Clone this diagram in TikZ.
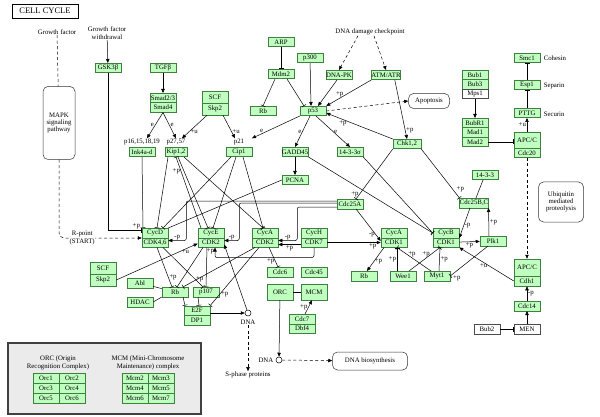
\documentclass[tikz,border=0pt]{standalone}
\usepackage{fontspec}
\setmainfont{Liberation Serif}
\usetikzlibrary{arrows.meta}
\definecolor{kgfill}{HTML}{BFFFBF}
\definecolor{kgline}{HTML}{3F7F3F}
\definecolor{legfill}{HTML}{EBEBEB}
\newcommand{\kgfont}{\fontsize{6.8}{7.3}\selectfont}
\tikzset{
  gene/.style={draw=kgline,fill=kgfill,minimum width=26pt,minimum height=9.5pt,inner sep=0pt,font=\kgfont},
  blank/.style={gene,draw=black!70,fill=white},
  txt/.style={font=\kgfont,inner sep=0.5pt,align=center},
  lbl/.style={font=\kgfont,inner sep=0.8pt},
  map/.style={draw=black!80,rounded corners=5pt,font=\kgfont,align=center,inner sep=1pt},
  act/.style={-{Triangle[length=4pt,width=3.4pt]}},
  inh/.style={-{Bar[width=5pt]}},
  dsh/.style={dash pattern=on 3pt off 2.5pt},
}
\begin{document}
\begin{tikzpicture}[x=1pt,y=-1pt,line width=0.5pt]
\useasboundingbox (0,0) rectangle (600,417);
% title and pathway boxes
\node[draw,minimum width=66pt,minimum height=14pt,inner sep=0pt,font=\fontsize{8.5}{9}\selectfont] (title) at (45,11) {CELL CYCLE};
\node[txt] (gf) at (57,32) {Growth factor};
\node[txt] (gfw) at (107,33) {Growth factor\\withdrawal};
\node[txt] (ddc) at (370,32) {DNA damage checkpoint};
\node[map,minimum width=32pt,minimum height=73pt] (mapk) at (59,123) {MAPK\\signaling\\pathway};
\node[map,minimum width=41pt,minimum height=15pt] (apop) at (429,101) {Apoptosis};
\node[map,minimum width=45pt,minimum height=40pt] (ubiq) at (561,202) {Ubiquitin\\mediated\\proteolysis};
\node[map,minimum width=75pt,minimum height=18pt] (dnabio) at (370,361) {DNA biosynthesis};
% G1 regulators
\node[gene] (gsk) at (108,68) {GSK3β};
\node[gene] (tgf) at (163,68) {TGFβ};
\node[gene] (smad23) at (163,98) {Smad2/3};
\node[gene] (smad4) at (163,107.5) {Smad4};
\node[gene,minimum height=12pt] (scfa) at (215,97) {SCF};
\node[gene,minimum height=12pt] (skp2a) at (215,109) {Skp2};
\node[txt] (p16) at (142,142) {p16,15,18,19};
\node[txt] (p27) at (176,142) {p27,57};
\node[txt] (p21) at (239,142) {p21};
\node[gene] (ink) at (142,152) {Ink4a-d};
\node[gene,minimum width=22pt] (kip) at (176,152) {Kip1,2};
\node[gene] (cip) at (239,152) {Cip1};
% p53 pathway
\node[gene] (arp) at (281,42) {ARP};
\node[gene] (mdm2) at (281,74) {Mdm2};
\node[gene] (rbt) at (263,111) {Rb};
\node[gene] (p300) at (310,58) {p300};
\node[gene] (dnapk) at (339,75) {DNA-PK};
\node[gene,minimum width=28pt] (atm) at (386,75) {ATM/ATR};
\node[gene] (p53) at (313,111) {p53};
\node[gene,minimum width=28pt] (chk) at (407,144) {Chk1,2};
\node[gene] (gadd) at (295,152) {GADD45};
\node[gene] (sigma) at (350,152) {14-3-3σ};
\node[gene] (pcna) at (295,180) {PCNA};
\node[gene] (cdc25a) at (350,204) {Cdc25A};
% cyclin/CDK complexes
\node[gene] (cycD) at (155,233) {CycD};
\node[gene] (cdk46) at (155,242.5) {CDK4,6};
\node[gene] (cycE) at (211,233) {CycE};
\node[gene] (cdk2e) at (211,242.5) {CDK2};
\node[gene] (cycA) at (265,233) {CycA};
\node[gene] (cdk2a) at (265,242.5) {CDK2};
\node[gene] (cycH) at (314,233) {CycH};
\node[gene] (cdk7) at (314,242.5) {CDK7};
\node[gene] (cycAb) at (394,233) {CycA};
\node[gene] (cdk1a) at (394,242.5) {CDK1};
\node[gene] (cycB) at (446,233) {CycB};
\node[gene] (cdk1b) at (446,242.5) {CDK1};
\node[gene] (plk) at (493,241) {Plk1};
\node[gene] (cdc25bc) at (474,203) {Cdc25B,C};
\node[gene] (f1433) at (485,175) {14-3-3};
\node[gene] (rb2) at (364,276) {Rb};
\node[gene] (wee) at (403,276) {Wee1};
\node[gene] (myt) at (437,276) {Myt1};
% Rb / E2F
\node[gene,minimum height=12pt] (scfb) at (103,268) {SCF};
\node[gene,minimum height=12pt] (skp2b) at (103,280) {Skp2};
\node[gene] (abl) at (140,283) {Abl};
\node[gene] (hdac) at (140,302) {HDAC};
\node[gene] (rb1) at (175,292) {Rb};
\node[gene] (p107) at (206,292) {p107};
\node[gene] (e2f) at (197,310.5) {E2F};
\node[gene] (dp1) at (197,320) {DP1};
\node[circle,draw,inner sep=0pt,minimum size=6pt] (dna1) at (248,313) {};
\node[txt] (dna1txt) at (248,322) {DNA};
\node[txt] (sphase) at (248,375) {S-phase proteins};
% replication licensing
\node[gene] (cdc6) at (280,272) {Cdc6};
\node[gene] (cdc45) at (314,272) {Cdc45};
\node[gene,minimum height=16pt] (orc) at (280,292) {ORC};
\node[gene,minimum height=16pt] (mcm) at (314,292) {MCM};
\node[gene] (cdc7) at (302,319) {Cdc7};
\node[gene] (dbf4) at (302,328.5) {Dbf4};
\node[circle,draw,inner sep=0pt,minimum size=6pt] (dna2) at (279,360) {};
\node[txt,anchor=east] (dna2txt) at (274,360) {DNA};
% spindle checkpoint
\node[gene] (bub1) at (475,75) {Bub1};
\node[gene] (bub3) at (475,84.5) {Bub3};
\node[blank] (mps1) at (475,94) {Mps1};
\node[gene] (bubr1) at (475,123) {BubR1};
\node[gene] (mad1) at (475,132.5) {Mad1};
\node[gene] (mad2) at (475,142) {Mad2};
\node[gene] (smc1) at (527,58) {Smc1};
\node[gene] (esp) at (527,85) {Esp1};
\node[gene] (pttg) at (527,113) {PTTG};
\node[txt,anchor=west] at (543,58) {Cohesin};
\node[txt,anchor=west] at (543,86) {Separin};
\node[txt,anchor=west] at (543,114) {Securin};
\node[gene,minimum height=16pt] (apc20) at (527,140) {APC/C};
\node[gene] (cdc20) at (527,152.75) {Cdc20};
\node[gene,minimum height=17pt] (apc1) at (527,267.5) {APC/C};
\node[gene,minimum height=10pt] (cdh1) at (527,281) {Cdh1};
\node[gene] (cdc14) at (527,306) {Cdc14};
\node[blank] (men) at (527,329) {MEN};
\node[blank] (bub2) at (487,329) {Bub2};

% growth factor signals
\draw[dsh] (gf) -- (mapk);
\draw[act] (gfw) -- (gsk);
\draw[inh] (gsk.south) |- ([yshift=3pt]cycD.west) node[lbl,pos=0.92,above]{+p};
\draw[dsh,act,rounded corners=5pt] (mapk.south) |- (cycD.south west) node[txt,fill=white,pos=0.64]{R-point\\(START)};
\draw[act] (tgf) -- (smad23);
\draw[act] (smad4.south) -- ([xshift=5pt]p16.north) node[lbl,midway,left]{e};
\draw[act] (smad4.south) -- (p27.north) node[lbl,midway,right]{e};
\draw[act] ([xshift=-8pt]skp2a.south) -- ([xshift=6pt]p27.north) node[lbl,pos=0.7,right]{+u};
\draw[act] ([xshift=8pt]skp2a.south) -- ([xshift=-4pt]p21.north) node[lbl,pos=0.7,right]{+u};
\draw[act] (p53.south west) -- ([xshift=13pt]p21.north) node[lbl,pos=0.8,above]{e};
% p53 and DNA damage
\draw[inh] (arp) -- (mdm2);
\draw[inh] ([xshift=-6pt]mdm2.south) -- (rbt.north);
\draw[inh] ([xshift=6pt]mdm2.south) -- ([xshift=-9pt]p53.north);
\draw[act] (p300) -- ([xshift=-2pt]p53.north);
\draw[act] ([xshift=-2pt]dnapk.south) -- ([xshift=5pt]p53.north);
\draw[act] (atm.south west) -- (p53.north east) node[lbl,pos=0.7,above]{+p};
\draw[act] (chk.north west) -- ([yshift=-2pt]p53.east) node[lbl,pos=0.75,below]{+p};
\draw[dsh,act] (p53.east) -- (apop.west);
\draw[act] ([xshift=-6pt]atm.south east) -- (chk.north) node[lbl,pos=0.85,right]{+p};
\draw[dsh,act] ([xshift=-12pt]ddc.south) -- (dnapk.north);
\draw[dsh,act] ([xshift=4pt]ddc.south) -- (atm.north);
\draw[act] ([xshift=-3pt]p53.south) -- (gadd.north) node[lbl,midway,left]{e};
\draw[act] ([xshift=3pt]p53.south) -- (sigma.north) node[lbl,midway,right]{e};
\draw[act] (gadd) -- (pcna);
\draw[inh] (chk.south west) -- ([xshift=6pt]cdc25a.north) node[lbl,pos=0.9,left]{+p};
\draw[inh] (chk.south east) -- (cdc25bc.north west) node[lbl,pos=0.9,above right]{+p};
\draw (f1433) -- (cdc25bc);
% G2/M
\draw[act] ([xshift=-4pt]cdc25bc.south) -- (cycB.south east) node[lbl,pos=0.6,right]{-p};
\draw[act] (cdk1b) -- (plk) node[lbl,midway,below]{+p};
\draw[act] ([xshift=-4pt]plk.north) -- (cdc25bc.south east) node[lbl,midway,right]{+p};
\draw[inh] ([xshift=-5pt]plk.south) -- (myt.east) node[lbl,pos=0.95,below right]{+p};
\draw[act] (cdh1.west) -- (cdk1b.south east) node[lbl,pos=0.55,below]{+u};
\draw[inh] (gadd.south east) -- (cycB.west);
\draw[inh] (sigma.south east) -- (cycB.west);
\draw[act] ([xshift=6pt]cdc25a.south) -- ([yshift=1.5pt]cdk1a.west) node[lbl,pos=0.8,left]{-p};
\draw[act] (cdk7) -- (cdk1a) node[lbl,pos=0.85,below]{+p};
\draw[act] ([xshift=-10pt]cdk1a.south) -- ([xshift=3pt]rb2.north) node[lbl,pos=0.6,right]{+p};
\draw[inh] ([xshift=-6pt]wee.north) -- ([xshift=3pt]cdk1a.south) node[lbl,pos=0.5,left]{+p};
\draw[inh] ([xshift=6pt]wee.north) -- ([xshift=-6pt]cdk1b.south) node[lbl,pos=0.7,left]{+p};
\draw[inh] ([xshift=-6pt]myt.north) -- ([xshift=3pt]cdk1a.south) node[lbl,pos=0.7,right]{+p};
\draw[inh] ([xshift=2pt]myt.north) -- ([xshift=-6pt]cdk1b.south) node[lbl,pos=0.5,right]{+p};
% CDK inhibitors
\draw[inh] (ink.south) -- ([xshift=-12pt]cycD.north);
\draw[inh] ([xshift=-8pt]kip.south) -- ([xshift=2pt]cycD.north);
\draw[inh] ([xshift=2pt]kip.south) -- ([xshift=-3pt]cycE.north);
\draw[inh] ([xshift=8pt]kip.south) -- ([xshift=-2pt]cycA.north);
\draw[inh] ([xshift=-8pt]cip.south) -- ([xshift=8pt]cycD.north);
\draw[inh] ([xshift=-3pt]cip.south) -- ([xshift=2pt]cycE.north);
\draw[inh] ([xshift=4pt]cip.south) -- ([xshift=-2pt]cycA.north);
\draw[inh] ([xshift=-10pt]cycE.north) -- (kip.south) node[lbl,pos=0.8,left]{+p};
\draw (pcna.west) -- (cycD.north east);
% Cdc25A
\draw[act,rounded corners=2pt] ([yshift=3pt]cdc25a.west) -| ([xshift=18pt,yshift=2pt]cdk46.east) -- ([yshift=2pt]cdk46.east) node[lbl,pos=0.5,above]{-p};
\draw[act,rounded corners=2pt] ([yshift=1pt]cdc25a.west) -| ([xshift=15pt,yshift=2pt]cdk2e.east) -- ([yshift=2pt]cdk2e.east) node[lbl,pos=0.5,above]{-p};
\draw[act,rounded corners=2pt] ([yshift=-3pt]cdc25a.west) -| ([xshift=19pt,yshift=2pt]cdk2a.east) -- ([yshift=2pt]cdk2a.east) node[lbl,pos=0.5,above]{-p};
% CAK
\draw[act] ([yshift=-2pt]cdk7.west) -- ([yshift=-2pt]cdk2a.east) node[lbl,midway,below]{+p};
\draw[act,rounded corners=2pt] (cdk7.south) |- ([xshift=4pt,yshift=-10pt]cdk2e.south) -- ([xshift=4pt]cdk2e.south) node[lbl,pos=0.6,left]{+p};
\draw[act] (skp2b.east) -- ([yshift=-1pt]cdk2e.west) node[lbl,pos=0.85,below]{+u};
% Rb / E2F
\draw[inh] ([xshift=2pt]cdk46.south) -- ([xshift=-3pt]rb1.north) node[lbl,pos=0.75,right]{+p};
\draw[inh] ([xshift=8pt]cdk46.south) -- ([xshift=-3pt]p107.north) node[lbl,pos=0.8,right]{+p};
\draw[inh] ([xshift=-8pt]cdk2e.south) -- ([xshift=2pt]rb1.north);
\draw[inh] ([xshift=-4pt]cdk2e.south) -- (p107.north);
\draw[inh] ([xshift=-10pt]cdk2a.south) -- ([xshift=8pt]rb1.north);
\draw (abl) -- (rb1);
\draw (hdac.east) -- (rb1.south west);
\draw[inh] ([xshift=8pt]rb1.south) -- ([xshift=-12pt]e2f.north);
\draw[inh] ([xshift=-8pt]p107.south) -- ([xshift=2pt]e2f.north);
\draw[inh] ([xshift=-6pt]cdk2a.south) -- (e2f.north east) node[lbl,pos=0.8,right]{+p};
\draw[act] ([yshift=-2.5pt]e2f.east) -- (dna1.west);
\draw[act] (dna1) -- ([yshift=-2pt]cdk2e.east);
\draw[dsh,act] (dna1txt) -- (sphase);
% licensing
\draw[inh] ([xshift=4pt]cdk2a.south) -- ([xshift=-2pt]cdc6.north) node[lbl,pos=0.7,left]{+p};
\draw (orc) -- (mcm);
\draw[act] ([xshift=3pt]cdc7.north) -- ([xshift=-2pt]mcm.south) node[lbl,midway,left]{+p};
\draw[act] (orc) -- (dna2);
\draw[dsh,act] (dna2) -- (dnabio);
% spindle checkpoint
\draw[act] (mps1) -- (bubr1);
\draw[inh] (mad2.east) -- (mad2.east -| apc20.west);
\draw[act] (apc20) -- (pttg) node[lbl,midway,left]{+u};
\draw[inh] (pttg) -- (esp);
\draw[inh] (esp) -- (smc1);
\draw[dsh,act] (cdc20) -- (apc1);
\draw[act] (cdc14) -- (cdh1) node[lbl,midway,right]{-p};
\draw[act] (men) -- (cdc14);
\draw[inh] (bub2) -- (men);
% legend
\draw[line width=1.2pt,draw=black!75,fill=legfill] (8,343) rectangle (201,414);
\node[txt] (orctxt) at (58,363) {ORC (Origin\\Recognition Complex)};
\node[txt] (mcmtxt) at (148,363) {MCM (Mini-Chromosome\\Maintenance) complex};
\foreach \l/\r/\k in {Orc1/Orc2/0,Orc3/Orc4/1,Orc5/Orc6/2}{
  \node[gene,minimum height=10pt] (\l) at (46,378+10*\k) {\l};
  \node[gene,minimum height=10pt] (\r) at (72,378+10*\k) {\r};
}
\foreach \l/\r/\k in {Mcm2/Mcm3/0,Mcm4/Mcm5/1,Mcm6/Mcm7/2}{
  \node[gene,minimum height=10pt] (\l) at (135,378+10*\k) {\l};
  \node[gene,minimum height=10pt] (\r) at (161,378+10*\k) {\r};
}
\end{tikzpicture}
\end{document}
